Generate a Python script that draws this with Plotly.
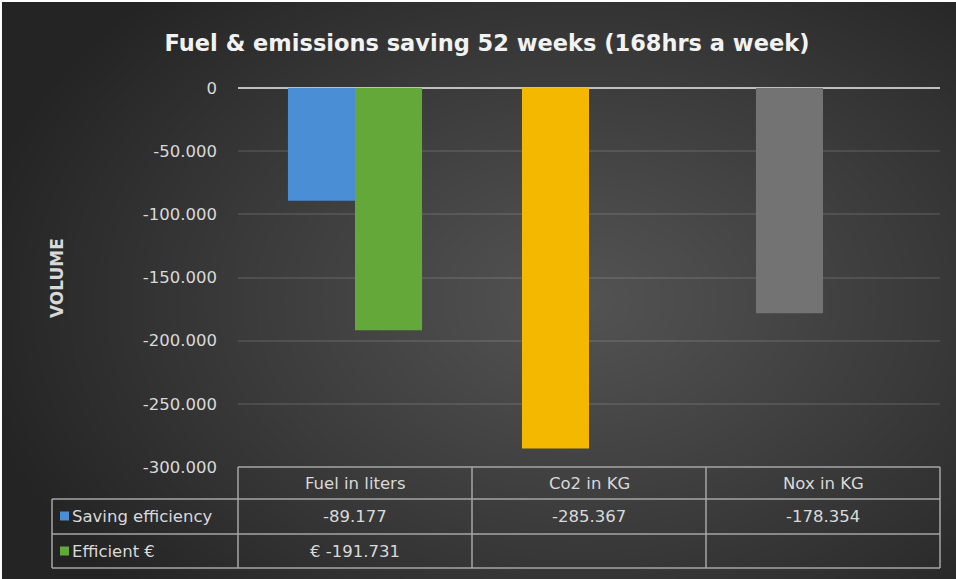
import base64, struct, zlib
import numpy as np
import plotly.graph_objects as go

# ---------------- data ----------------
categories = ["Fuel in liters", "Co2 in KG", "Nox in KG"]
saving_efficiency = [-89177, -285367, -178354]
efficient_eur = [-191731, None, None]
series_names = ["Saving efficiency", "Efficient €"]
tick_values = [0, -50000, -100000, -150000, -200000, -250000, -300000]
tick_labels = ["0", "-50.000", "-100.000", "-150.000", "-200.000", "-250.000", "-300.000"]

# ---------------- styles ----------------
W, H = 956, 579
L, R, T, B = 238, 940, 88, 467
point_colors = ["#4a8fd6", "#f4b800", "#737373"]
green = "#64a83a"
text_col = "#d9d9d9"
line_col = "#a6a6a6"
FONT = "DejaVu Sans"


def px(x):
    return (x - L) / (R - L)


def py(y):
    return (B - y) / (B - T)


# background radial gradient as PNG
yy, xx = np.mgrid[0:H, 0:W]
r = np.sqrt(((xx - 580) / 620.0) ** 2 + ((yy - 300) / 430.0) ** 2)
g = 83 - 47 * np.clip(r, 0, 1) ** 1.1
g = np.clip(g, 0, 255).astype(np.uint8)
img = np.stack([g, g, g], axis=-1)
img[:2, :, :] = 255
img[:, :2, :] = 255
raw = b"".join(b"\x00" + img[i].tobytes() for i in range(H))


def chunk(t, d):
    c = struct.pack(">I", len(d)) + t + d
    return c + struct.pack(">I", zlib.crc32(t + d) & 0xFFFFFFFF)


png = b"\x89PNG\r\n\x1a\n" + chunk(b"IHDR", struct.pack(">IIBBBBB", W, H, 8, 2, 0, 0, 0)) \
    + chunk(b"IDAT", zlib.compress(raw, 9)) + chunk(b"IEND", b"")
bg_uri = "data:image/png;base64," + base64.b64encode(png).decode()

fig = go.Figure()
fig.add_trace(go.Bar(x=categories, y=saving_efficiency, name=series_names[0],
                     marker=dict(color=point_colors, line=dict(width=0))))
fig.add_trace(go.Bar(x=categories, y=efficient_eur, name=series_names[1],
                     marker=dict(color=green, line=dict(width=0))))

shapes = []
annotations = []


def hline(y, x0, x1):
    shapes.append(dict(type="line", xref="paper", yref="paper", x0=px(x0), x1=px(x1),
                       y0=py(y), y1=py(y), line=dict(color=line_col, width=1.5)))


def vline(x, y0, y1):
    shapes.append(dict(type="line", xref="paper", yref="paper", x0=px(x), x1=px(x),
                       y0=py(y0), y1=py(y1), line=dict(color=line_col, width=1.5)))


row_y = [467, 499, 534, 568]
col_x = [238, 472, 706, 940]
hline(row_y[0], col_x[0], col_x[-1])
for yv in row_y[1:]:
    hline(yv, 52, col_x[-1])
for xv in col_x:
    vline(xv, row_y[0], row_y[-1])
vline(52, row_y[1], row_y[-1])


def txt(x, y, s, anchor="center", size=16.5):
    annotations.append(dict(x=px(x), y=py(y), xref="paper", yref="paper", text=s,
                            showarrow=False, xanchor=anchor, yanchor="middle",
                            font=dict(family=FONT, size=size, color=text_col)))


def fmt(v):
    return f"{v:,}".replace(",", ".")


for i, c in enumerate(categories):
    cx = (col_x[i] + col_x[i + 1]) / 2
    txt(cx, 483, c)
    txt(cx, 516, fmt(saving_efficiency[i]))
    if efficient_eur[i] is not None:
        txt(cx, 551, "€ " + fmt(efficient_eur[i]))

key_colors = [point_colors[0], green]
for k, (nm, yc) in enumerate(zip(series_names, [516, 551])):
    shapes.append(dict(type="rect", xref="paper", yref="paper", x0=px(60), x1=px(69),
                       y0=py(yc + 4.5), y1=py(yc - 4.5), fillcolor=key_colors[k],
                       line=dict(width=0)))
    txt(70, yc, nm, anchor="left")

annotations.append(dict(x=px(57), y=py(278), xref="paper", yref="paper", text="<b>VOLUME</b>",
                        textangle=-90, showarrow=False, xanchor="center", yanchor="middle",
                        font=dict(family=FONT, size=17, color=text_col)))

fig.update_layout(
    width=W, height=H,
    margin=dict(l=L, r=W - R, t=T, b=H - B, pad=0),
    paper_bgcolor="#262626",
    plot_bgcolor="rgba(0,0,0,0)",
    barmode="group", bargap=0.427, bargroupgap=0,
    showlegend=False,
    title=dict(text="<b>Fuel & emissions saving 52 weeks (168hrs a week)</b>",
               x=487 / W, xanchor="center", y=1 - 43 / H, yanchor="middle",
               font=dict(family=FONT, size=22.5, color="#f2f2f2")),
    xaxis=dict(showticklabels=False, showgrid=False, zeroline=False, showline=False,
               fixedrange=True),
    yaxis=dict(range=[-300000, 0], tickvals=tick_values, ticktext=tick_labels,
               tickfont=dict(family=FONT, size=16.5, color=text_col),
               ticklabelstandoff=20,
               showgrid=True, gridcolor="rgba(255,255,255,0.1)", gridwidth=1.5,
               zeroline=True, zerolinecolor="#bfbfbf", zerolinewidth=2,
               showline=False, fixedrange=True),
    images=[dict(source=bg_uri, xref="paper", yref="paper", x=px(0), y=py(0),
                 sizex=W / (R - L), sizey=H / (B - T), xanchor="left", yanchor="top",
                 sizing="stretch", layer="below")],
    shapes=shapes,
    annotations=annotations,
    hovermode=False,
)

fig.write_html("out.html", config={"displayModeBar": False},
               post_script="document.body.style.margin='0';document.body.style.overflow='hidden';")
